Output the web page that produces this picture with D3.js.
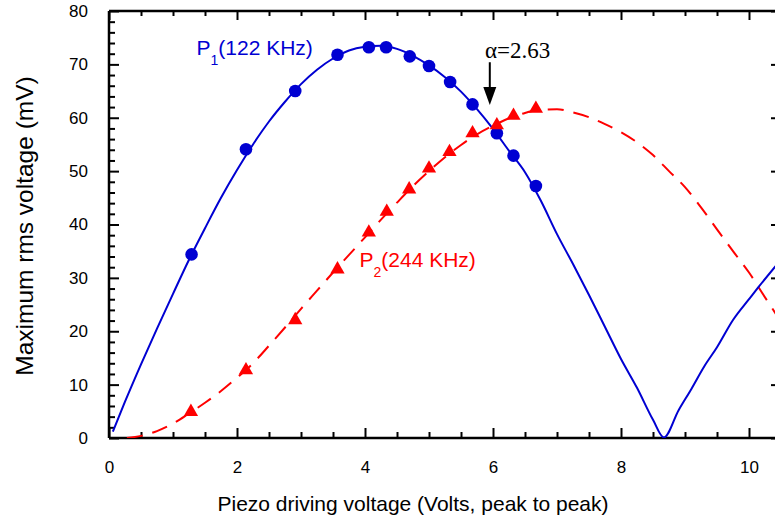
<!DOCTYPE html>
<html>
<head>
<meta charset="utf-8">
<script src="https://cdn.jsdelivr.net/npm/d3@7"></script>
<style>
  html, body { margin: 0; padding: 0; background: #fff; }
  svg { display: block; }
</style>
</head>
<body>
<svg id="chart" width="775" height="519" font-family="Liberation Sans, Arial, sans-serif"></svg>
<script>
// ---------- data ----------
const p1PointsX = [1.29, 2.14, 2.91, 3.57, 4.06, 4.33, 4.70, 5.00, 5.33, 5.68, 6.06, 6.32, 6.67];
const p1PointsY = [34.4, 54.1, 65.0, 71.8, 73.2, 73.2, 71.5, 69.7, 66.7, 62.5, 57.1, 52.9, 47.2];

const p2PointsX = [1.28, 2.14, 2.91, 3.57, 4.06, 4.34, 4.69, 5.00, 5.32, 5.68, 6.06, 6.32, 6.67];
const p2PointsY = [4.9, 12.7, 22.1, 31.6, 38.5, 42.4, 46.6, 50.5, 53.6, 57.1, 58.6, 60.4, 61.7];

const p1FitX = [0.06, 0.25, 0.5, 0.75, 1.0, 1.25, 1.5, 1.75, 2.0, 2.25, 2.5, 2.75, 3.0, 3.25, 3.5, 3.75,
                4.0, 4.25, 4.5, 4.75, 5.0, 5.25, 5.5, 5.75, 6.0, 6.25, 6.5, 6.75, 7.0, 7.25, 7.5, 7.75,
                8.0, 8.25, 8.5, 8.67, 8.9, 9.1, 9.3, 9.5, 9.75, 10.0, 10.15, 10.45];
const p1FitY = [1.2, 6.8, 13.8, 20.5, 27.0, 33.4, 39.3, 45.0, 50.2, 55.0, 59.3, 63.0, 66.3, 69.0, 71.1, 72.6,
                73.3, 73.5, 72.9, 71.6, 69.8, 67.6, 64.9, 61.6, 57.9, 53.8, 49.8, 44.4, 38.2, 32.6, 26.8, 20.8,
                14.8, 9.4, 3.4, 0.1, 5.2, 9.2, 13.4, 17.0, 22.1, 26.0, 28.3, 32.7];

const p2FitX = [0.28, 0.5, 0.75, 1.0, 1.25, 1.5, 1.75, 2.0, 2.25, 2.5, 2.75, 3.0, 3.25, 3.5, 3.75, 4.0,
                4.25, 4.5, 4.75, 5.0, 5.25, 5.5, 5.75, 6.0, 6.25, 6.5, 6.75, 7.0, 7.25, 7.5, 7.75, 8.0,
                8.25, 8.5, 8.75, 9.0, 9.25, 9.5, 9.75, 10.0, 10.28, 10.45];
const p2FitY = [0.0, 0.4, 1.3, 2.7, 4.6, 6.6, 8.8, 11.3, 14.0, 17.3, 20.7, 24.2, 27.6, 31.0, 34.3, 37.6,
                40.9, 44.1, 47.2, 50.0, 52.6, 54.9, 56.9, 58.5, 59.9, 60.9, 61.5, 61.6, 61.0, 60.1, 58.8, 57.3,
                55.4, 53.0, 50.0, 47.0, 43.2, 39.1, 35.0, 31.0, 25.8, 22.7];

const xTickValues = [0, 2, 4, 6, 8, 10];
const xTickLabels = ["0", "2", "4", "6", "8", "10"];
const yTickValues = [0, 10, 20, 30, 40, 50, 60, 70, 80];
const yTickLabels = ["0", "10", "20", "30", "40", "50", "60", "70", "80"];

const xTitle = "Piezo driving voltage (Volts, peak to peak)";
const yTitle = "Maximum rms voltage (mV)";
const p1Label = ["P", "1", "(122 KHz)"];
const p2Label = ["P", "2", "(244 KHz)"];
const alphaLabel = "\u03B1=2.63";
const arrowX = 5.95, arrowTopY = 70.4, arrowTipY = 62.4;

(function () {
// ---------- layout ----------
const svg = d3.select("#chart");
const SANS = "Liberation Sans, Arial, sans-serif";
const SERIF = "Liberation Serif, Times New Roman, DejaVu Serif, serif";
const mLeft = 109, mRight = 781, mTop = 11, mBottom = 438;
const x = d3.scaleLinear().domain([0, 10.5]).range([mLeft, mRight]);
const y = d3.scaleLinear().domain([0, 80]).range([mBottom, mTop]);

const BLUE = "#0000d2";
const RED = "#ff0000";

svg.append("defs").append("clipPath").attr("id", "plotclip")
  .append("rect").attr("x", mLeft).attr("y", mTop).attr("width", mRight - mLeft).attr("height", mBottom - mTop);

// ---------- axes (ticks inward on all sides) ----------
const xMinor = d3.range(0, 10.51, 0.5).filter(v => !xTickValues.includes(v));
const yMinor = d3.range(0, 80.1, 2).filter(v => !yTickValues.includes(v));

function styleAxis(g) {
  g.attr("font-family", SANS);
  g.select(".domain").remove();
  g.selectAll(".tick line").attr("stroke", "#000").attr("stroke-width", 2);
}

// bottom
svg.append("g").attr("transform", `translate(0,${mBottom})`)
  .call(d3.axisBottom(x).tickValues(xTickValues).tickSize(-10).tickPadding(0)
        .tickFormat((d, i) => xTickLabels[i]))
  .call(styleAxis)
  .call(g => g.selectAll(".tick text").attr("y", 35).attr("dy", 0)
        .attr("font-size", 17).attr("fill", "#000"));
svg.append("g").attr("transform", `translate(0,${mBottom})`)
  .call(d3.axisBottom(x).tickValues(xMinor).tickSize(-6).tickFormat(""))
  .call(styleAxis);
// top
svg.append("g").attr("transform", `translate(0,${mTop})`)
  .call(d3.axisTop(x).tickValues(xTickValues).tickSize(-9).tickFormat(""))
  .call(styleAxis);
svg.append("g").attr("transform", `translate(0,${mTop})`)
  .call(d3.axisTop(x).tickValues(xMinor).tickSize(-5).tickFormat(""))
  .call(styleAxis);
// left
svg.append("g").attr("transform", `translate(${mLeft},0)`)
  .call(d3.axisLeft(y).tickValues(yTickValues).tickSize(-10).tickPadding(21)
        .tickFormat((d, i) => yTickLabels[i]))
  .call(styleAxis)
  .call(g => g.selectAll(".tick text").attr("font-size", 17).attr("fill", "#000"));
svg.append("g").attr("transform", `translate(${mLeft},0)`)
  .call(d3.axisLeft(y).tickValues(yMinor).tickSize(-6).tickFormat(""))
  .call(styleAxis);
// right
svg.append("g").attr("transform", `translate(${mRight},0)`)
  .call(d3.axisRight(y).tickValues(yTickValues).tickSize(-10).tickFormat(""))
  .call(styleAxis);

// frame lines
[[mLeft, mRight, mBottom, mBottom], [mLeft, mRight, mTop, mTop],
 [mLeft, mLeft, mTop, mBottom], [mRight, mRight, mTop, mBottom]].forEach(c => {
  svg.append("line").attr("x1", c[0]).attr("x2", c[1]).attr("y1", c[2]).attr("y2", c[3])
    .attr("stroke", "#000").attr("stroke-width", 2.5);
});

// ---------- curves ----------
const plot = svg.append("g").attr("clip-path", "url(#plotclip)");
const line = d3.line().x(d => x(d[0])).y(d => y(d[1])).curve(d3.curveMonotoneX);

const p1Fit = p1FitX.map((v, i) => [v, p1FitY[i]]);
const p2Fit = p2FitX.map((v, i) => [v, p2FitY[i]]);

plot.append("path").datum(p2Fit).attr("d", line)
  .attr("fill", "none").attr("stroke", RED).attr("stroke-width", 2)
  .attr("stroke-dasharray", "16,10");
plot.append("path").datum(p1Fit).attr("d", line)
  .attr("fill", "none").attr("stroke", BLUE).attr("stroke-width", 2);

// ---------- markers ----------
plot.selectAll("circle.p1").data(p1PointsX.map((v, i) => [v, p1PointsY[i]]))
  .enter().append("circle").attr("class", "p1")
  .attr("cx", d => x(d[0])).attr("cy", d => y(d[1])).attr("r", 6.3).attr("fill", BLUE);

const tri = d3.symbol(d3.symbolTriangle, 88);
plot.selectAll("path.p2").data(p2PointsX.map((v, i) => [v, p2PointsY[i]]))
  .enter().append("path").attr("class", "p2")
  .attr("d", tri).attr("transform", d => `translate(${x(d[0])},${y(d[1])})`)
  .attr("fill", RED);

// ---------- labels ----------
function subLabel(parts, px, py, color) {
  const t = svg.append("text").attr("x", px).attr("y", py).attr("fill", color)
    .attr("font-family", SANS).attr("font-size", 21);
  t.append("tspan").text(parts[0]);
  t.append("tspan").attr("font-size", 14).attr("dy", 10).text(parts[1]);
  t.append("tspan").attr("dy", -10).text(parts[2]);
}
subLabel(p1Label, 196.5, 55, BLUE);
subLabel(p2Label, 359.5, 267, RED);

svg.append("text").attr("x", 485).attr("y", 58)
  .attr("font-family", SERIF).attr("font-size", 23).attr("fill", "#000").text(alphaLabel);

// arrow
svg.append("line").attr("x1", x(arrowX)).attr("x2", x(arrowX))
  .attr("y1", y(arrowTopY)).attr("y2", y(arrowTipY) - 16)
  .attr("stroke", "#000").attr("stroke-width", 2);
svg.append("path")
  .attr("d", `M${x(arrowX) - 6.5},${y(arrowTipY) - 18} L${x(arrowX) + 6.5},${y(arrowTipY) - 18} L${x(arrowX)},${y(arrowTipY)} Z`)
  .attr("fill", "#000");

// axis titles
svg.append("text").attr("x", 413).attr("y", 511).attr("text-anchor", "middle")
  .attr("font-family", SANS).attr("font-size", 21).attr("fill", "#000").text(xTitle);
svg.append("text").attr("transform", "translate(33,226) rotate(-90)").attr("text-anchor", "middle")
  .attr("font-family", SANS).attr("font-size", 24.5).attr("fill", "#000").text(yTitle);
})();
</script>
</body>
</html>
